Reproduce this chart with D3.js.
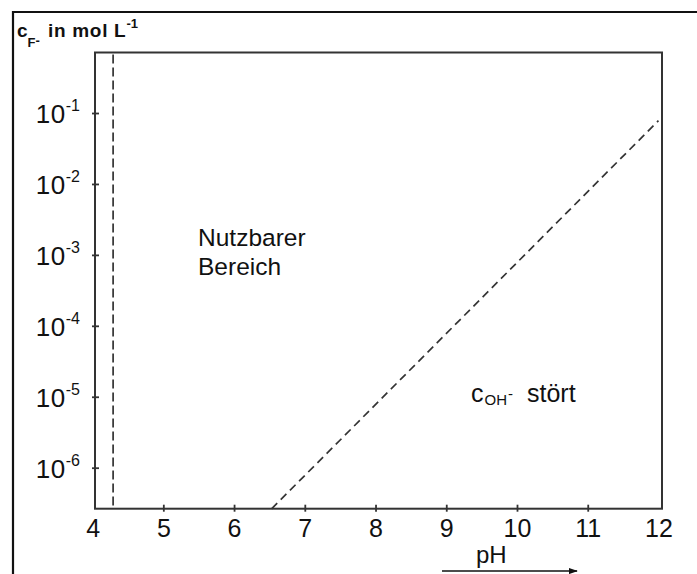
<!DOCTYPE html>
<html>
<head>
<meta charset="utf-8">
<script src="https://cdn.jsdelivr.net/npm/d3@7"></script>
<style>
  html, body { margin: 0; padding: 0; background: #fff; }
  svg { display: block; font-family: Arial, "Liberation Sans", Helvetica, sans-serif; }
</style>
</head>
<body>
<svg id="chart" width="697" height="574"></svg>
<script>
// pH axis ticks
const phTicks = [4, 5, 6, 7, 8, 9, 10, 11, 12];
// fluoride concentration ticks (mol/L), labelled as powers of ten
const concTicks = [1e-1, 1e-2, 1e-3, 1e-4, 1e-5, 1e-6];
const concExponents = [-1, -2, -3, -4, -5, -6];
// lower pH limit of the usable range (vertical dashed line)
const lowerLimitPH = [4.29];
// hydroxide interference boundary (diagonal dashed line)
const boundaryPH = [6.53, 12.0];
const boundaryConc = [2.63e-7, 0.078];

const svg = d3.select("#chart");
const W = 697, H = 574;
const plot = { left: 95, right: 662, top: 52.5, bottom: 508.7 };
const FONT = "Arial, 'Liberation Sans', sans-serif";

svg.append("rect").attr("width", W).attr("height", H).attr("fill", "#fff");

// outer border of the figure
svg.append("path")
  .attr("d", `M13,${H + 2} L13,12 L${W + 2},12`)
  .attr("fill", "none").attr("stroke", "#111").attr("stroke-width", 2.2);

const x = d3.scaleLinear().domain([4.034, 12.05]).range([plot.left, plot.right]);
const y = d3.scaleLog().domain([Math.pow(10, -6.578), Math.pow(10, -0.147)])
  .range([plot.bottom, plot.top]);

const ink = "#333";

// plot frame
svg.append("rect")
  .attr("x", plot.left).attr("y", plot.top)
  .attr("width", plot.right - plot.left).attr("height", plot.bottom - plot.top)
  .attr("fill", "none").attr("stroke", ink).attr("stroke-width", 2);

// x axis
const xAxis = svg.append("g")
  .attr("transform", `translate(0,${plot.bottom})`)
  .call(d3.axisBottom(x).tickValues(phTicks).tickFormat(d3.format("d")).tickSizeOuter(0));
xAxis.select(".domain").remove();
xAxis.selectAll(".tick line")
  .attr("y1", -4).attr("y2", 3)
  .attr("stroke", ink).attr("stroke-width", 1.8)
  .attr("display", d => (d === 4 || d === 12) ? "none" : null);
xAxis.selectAll(".tick text")
  .attr("y", 28.5).attr("dy", null)
  .attr("font-size", 25).attr("fill", "#111")
  .attr("font-family", FONT);

// y axis (log)
const yAxis = svg.append("g")
  .attr("transform", `translate(${plot.left},0)`)
  .call(d3.axisLeft(y).tickValues(concTicks).tickFormat("").tickSizeOuter(0));
yAxis.select(".domain").remove();
yAxis.selectAll(".tick line")
  .attr("x1", -3).attr("x2", 4)
  .attr("stroke", ink).attr("stroke-width", 1.8);
yAxis.selectAll(".tick text").remove();
yAxis.selectAll(".tick").each(function (d, i) {
  const t = d3.select(this).append("text")
    .attr("x", -15).attr("y", 9.7)
    .attr("text-anchor", "end")
    .attr("fill", "#111")
    .attr("font-family", FONT);
  t.append("tspan").attr("font-size", 26).attr("letter-spacing", 0.5).text("10");
  t.append("tspan").attr("font-size", 16).attr("dy", -12).text(String(concExponents[i]));
});

// lower usable limit
svg.append("line")
  .attr("x1", x(lowerLimitPH[0])).attr("x2", x(lowerLimitPH[0]))
  .attr("y1", plot.top + 2).attr("y2", plot.bottom)
  .attr("stroke", ink).attr("stroke-width", 1.7)
  .attr("stroke-dasharray", "9,4");

// OH- interference boundary
const boundary = boundaryPH.map((p, i) => [p, boundaryConc[i]]);
svg.append("path")
  .datum(boundary)
  .attr("d", d3.line().x(d => x(d[0])).y(d => y(d[1])))
  .attr("fill", "none").attr("stroke", ink).attr("stroke-width", 1.7)
  .attr("stroke-dasharray", "8,5");

// region labels
const region = svg.append("text")
  .attr("font-size", 24.5).attr("fill", "#111")
  .attr("font-family", FONT);
region.append("tspan").attr("x", 198).attr("y", 246).text("Nutzbarer");
region.append("tspan").attr("x", 198).attr("y", 275).text("Bereich");

const oh = svg.append("text")
  .attr("x", 471).attr("y", 402)
  .attr("fill", "#111")
  .attr("font-family", FONT);
oh.append("tspan").attr("font-size", 25).text("c");
oh.append("tspan").attr("font-size", 15).attr("dx", 1).attr("dy", 3).text("OH");
oh.append("tspan").attr("font-size", 15).attr("dx", 1).attr("dy", -6).text("-");
oh.append("tspan").attr("font-size", 25).attr("x", 527).attr("y", 402).text("stört");

// y-axis title
const title = svg.append("text")
  .attr("x", 17).attr("y", 37)
  .attr("fill", "#111").attr("font-weight", "bold")
  .attr("font-family", FONT);
title.append("tspan").attr("font-size", 19).text("c");
title.append("tspan").attr("font-size", 13).attr("dy", 10).text("F");
title.append("tspan").attr("font-size", 13).attr("dy", -2).text("-");
title.append("tspan").attr("font-size", 19).attr("x", 48).attr("y", 37)
  .attr("letter-spacing", 0.7).text("in mol L");
title.append("tspan").attr("font-size", 13).attr("dy", -9).text("-1");

// x-axis title with direction arrow
svg.append("text")
  .attr("x", 476).attr("y", 563)
  .attr("font-size", 24).attr("fill", "#111")
  .attr("font-family", FONT)
  .text("pH");

svg.append("defs").append("marker")
  .attr("id", "arrowhead")
  .attr("viewBox", "0 0 10 10").attr("refX", 9).attr("refY", 5)
  .attr("markerWidth", 6).attr("markerHeight", 6)
  .attr("markerUnits", "strokeWidth")
  .attr("orient", "auto")
  .append("path").attr("d", "M0,1.5 L10,5 L0,8.5 Z").attr("fill", "#111");

svg.append("line")
  .attr("x1", 442).attr("x2", 577).attr("y1", 571).attr("y2", 571)
  .attr("stroke", "#111").attr("stroke-width", 1.5)
  .attr("marker-end", "url(#arrowhead)");
</script>
</body>
</html>
